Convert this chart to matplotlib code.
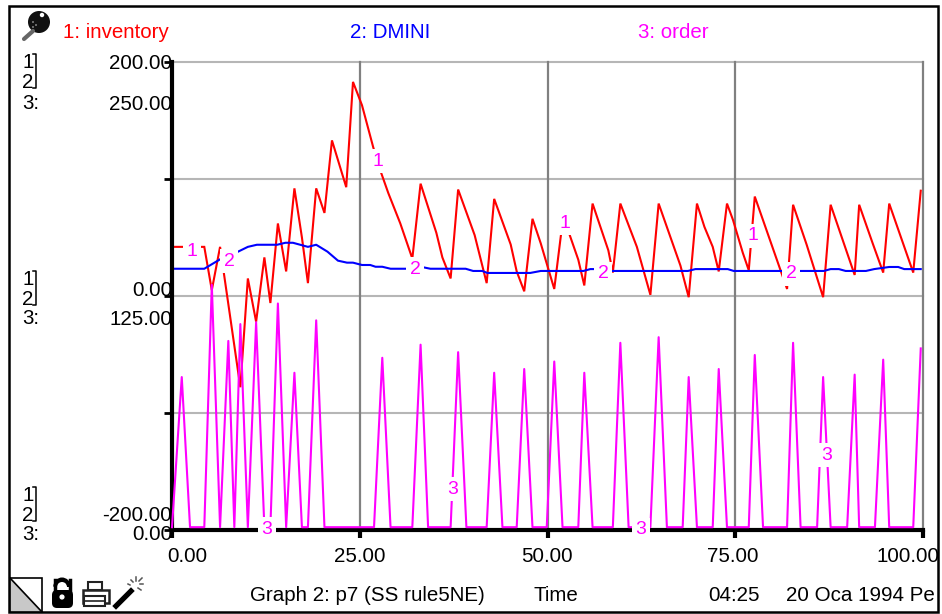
import matplotlib
matplotlib.use("Agg")
import matplotlib.pyplot as plt
from matplotlib.patches import Rectangle, Polygon, Circle, FancyBboxPatch, Wedge

plt.rcParams['font.family'] = ['Liberation Sans', 'DejaVu Sans']

# ---------- data ----------
inv_t = [0, 4.3, 5.3, 6.4, 9.1, 10.1, 11.2, 12.3, 13.1, 14.1, 15.2, 16.3, 17.3, 18.1, 19.2, 20.3, 21.3, 23.2,
         24.1, 25.3, 26.8, 27.7, 28.8, 30.4, 32, 33.1, 35.2, 36, 37.1, 38.1, 40.3, 41.9, 42.9, 45.1, 45.9, 46.9,
         48, 49.1, 50.9, 52, 52.8, 54.1, 54.9, 56, 58.1, 58.7, 59.7, 61.9, 63.7, 64.8, 67.7, 68.8, 69.9, 70.9,
         72, 72.8, 73.9, 74.7, 76, 76.8, 77.6, 81.9, 82.7, 84.5, 86.7, 87.7, 90.9, 91.5, 93.3, 94.7, 95.5, 98.7, 99.7]
inv_v = [42, 42, 5, 42, -78, 15, -22, 33, -6, 62, 21, 92, 50, 11, 92, 71, 133, 93,
         183, 163, 127, 108, 88, 62, 32, 96, 54, 33, 15, 91, 52, 11, 83, 44, 21, 4,
         66, 45, 6, 63, 55, 31, 9, 79, 39, 20, 79, 42, 1, 79, 26, -1, 79, 59,
         42, 21, 79, 65, 37, 22, 85, 6, 78, 44, -1, 78, 18, 78, 45, 20, 79, 20, 90]

dmini_t = [0, 4.3, 6.7, 8.7, 10.1, 11.3, 14, 15.1, 16.1, 18.1, 19.2, 20.7, 22.1, 23.3, 24.1, 25.3, 26.4, 27.1,
           28, 29.1, 31.3, 33.1, 34.4, 39.1, 40.1, 41.3, 42, 47.7, 49.1, 54.8, 55.7, 56.4, 58.4, 68.7, 69.7,
           74, 74.8, 86.8, 87.7, 88.8, 89.7, 92.4, 93.5, 95.5, 96.7, 97.5, 99.7]
dmini_v = [23.3, 23.3, 32.5, 37.6, 42, 43.8, 43.8, 45.5, 45.5, 42, 43.8, 37.9, 30.2, 28.5, 28.5, 26.5, 26.5, 25,
           25, 23.3, 23.3, 25, 23.3, 23.3, 21.4, 21.4, 19.7, 19.7, 21.4, 21.4, 23, 23, 21.4, 21.4, 23,
           23, 21.4, 21.4, 23, 23, 21.4, 21.4, 23, 24.8, 24.8, 23, 23]

order_t = [0, 1.3, 2.4, 4.3, 5.3, 6.4, 7.5, 8.3, 9.1, 10.1, 11.2, 12.3, 13.1, 14.1, 15.2, 16.3, 17.3, 18.1, 19.2,
           20.3, 26.9, 28, 29.1, 32, 33.1, 34.1, 37.1, 38.1, 39.2, 41.9, 42.9, 44, 45.9, 46.9, 48, 49.9, 50.9, 52,
           54.1, 54.9, 56, 58.7, 59.7, 60.8, 63.7, 64.8, 65.9, 68, 68.8, 69.9, 72, 72.8, 73.9, 76.8, 77.6, 78.7,
           81.9, 82.7, 83.7, 85.9, 86.7, 87.7, 89.9, 90.9, 91.5, 93.6, 94.7, 95.5, 98.7, 99.7]
order_v = [1.5, 81.7, 1.5, 1.5, 131, 1.5, 101, 1.5, 110, 1.5, 111, 1.5, 1.5, 121, 1.5, 84, 1.5, 1.5, 112,
           1.5, 1.5, 92, 1.5, 1.5, 99, 1.5, 1.5, 95, 1.5, 1.5, 84, 1.5, 1.5, 86, 1.5, 1.5, 90, 1.5,
           1.5, 84, 1.5, 1.5, 100, 1.5, 1.5, 103, 1.5, 1.5, 81.7, 1.5, 1.5, 86, 1.5, 1.5, 93.5, 1.5,
           1.5, 100, 1.5, 1.5, 81.7, 1.5, 1.5, 83, 1.5, 1.5, 91, 1.5, 1.5, 97]

legend_labels = ["1: inventory", "2: DMINI", "3: order"]
x_ticks = [0, 25, 50, 75, 100]
x_tick_labels = ["0.00", "25.00", "50.00", "75.00", "100.00"]
y_labels_left = ["200.00", "250.00", "0.00", "125.00", "-200.00", "0.00"]

W, H = 942, 614
RED, BLUE, MAG = "#ff0000", "#0000ff", "#ff00ff"
FS = 14.8
fig = plt.figure(figsize=(W / 100, H / 100), dpi=100, facecolor="white")

L, R, T, B = 172, 923, 62, 530
ax = fig.add_axes([L / W, 1 - B / H, (R - L) / W, (B - T) / H])
ax.set_xlim(0, 100)
ax.set_ylim(-200, 200)
ax.set_xticks(x_ticks)
ax.set_xticklabels([])
ax.set_yticks([-200, -100, 0, 100, 200])
ax.set_yticklabels([])
ax.tick_params(axis='x', length=6, width=3, color='black', bottom=True)
ax.tick_params(axis='y', length=6, width=2, color='black', left=True)
for s in ['top', 'right']:
    ax.spines[s].set_visible(False)
ax.spines['left'].set_linewidth(3)
ax.spines['bottom'].set_linewidth(3)
ax.spines['left'].set_zorder(6)
ax.spines['bottom'].set_zorder(6)
for v in [-100, 0, 100, 200]:
    ax.axhline(v, color="#b6b6b6", lw=1.5, zorder=1, clip_on=False)
for t in x_ticks[1:]:
    ax.axvline(t, color="#808080", lw=1.6, zorder=1.5, clip_on=False)

ax.plot(inv_t, inv_v, color=RED, lw=1.5, zorder=3, solid_joinstyle='miter', clip_on=False)
ax.plot(dmini_t, dmini_v, color=BLUE, lw=1.5, zorder=3.2, clip_on=False)

ax2 = ax.twinx()
ax2.set_ylim(0, 250)
ax2.set_yticks([])
for s in ax2.spines.values():
    s.set_visible(False)
ax2.plot(order_t, order_v, color=MAG, lw=1.5, zorder=3, clip_on=False)
ax.set_zorder(1)
ax2.set_zorder(2)

# overlay in pixel coordinates for the window furniture
ov = fig.add_axes([0, 0, 1, 1], zorder=5)
ov.set_xlim(0, W)
ov.set_ylim(H, 0)
ov.axis('off')
ov.patch.set_alpha(0)

border = Rectangle((9, 6), 929, 606, fill=False, ec='black', lw=1.8)
ov.add_patch(border)


def txt(x, y, s, ha='left', color='black', **kw):
    return ov.text(x, y + 1.5, s, ha=ha, va='center', color=color, fontsize=FS, **kw)


txt(63, 31, legend_labels[0], color=RED)
txt(350, 31, legend_labels[1], color=BLUE)
txt(638, 31, legend_labels[2], color=MAG)

for y0 in (61, 278, 494):
    txt(22, y0, "1")
    txt(22, y0 + 20, "2")
    txt(22, y0 + 41 if y0 == 61 else y0 + 39, "3:")
    top, bot = y0 - 7, y0 + 27
    ov.plot([33, 36, 36, 33], [top, top, bot, bot], color='black', lw=1.1)

for y, s in zip([62, 103, 289, 318, 514, 533], y_labels_left):
    txt(172, y, s, ha='right')

clip = Rectangle((9, 6), 929, 606, transform=ov.transData)
for x, s in zip([187, 360, 547, 733, 908], x_tick_labels):
    t = txt(x, 555, s, ha='center')
    t.set_clip_path(clip)
    t.set_clip_on(True)

txt(250, 594, "Graph 2: p7 (SS rule5NE)")
txt(533, 594, "Time")
txt(708, 594, "04:25")
t = txt(786, 594, "20 Oca 1994 Pe")
t.set_clip_path(clip)
t.set_clip_on(True)

labels = [(192, 251, "1"), (229, 260, "2"), (267, 528, "3"), (378, 160, "1"), (415, 268, "2"), (453, 488, "3"),
          (565, 222, "1"), (603, 273, "2"), (641, 529, "3"), (753, 235, "1"), (791, 273, "2"), (827, 454, "3")]
for x, y, s in labels:
    ov.text(x, y + 1, s, color=MAG, fontsize=14, ha='center', va='center', zorder=8,
            bbox=dict(fc='white', ec='none', pad=2.2))

# magnifier icon
ov.plot([24, 33], [39, 31], color="#666666", lw=3, solid_capstyle='round')
ov.add_patch(Circle((39, 22), 11, fc="#111111", ec='none'))
ov.add_patch(Circle((42, 15), 2.2, fc="white", ec='none'))
for (cx, cy) in [(33, 22), (36, 25), (33, 27)]:
    ov.add_patch(Circle((cx, cy), 0.9, fc="#999999", ec='none'))
# corner box
ov.add_patch(Polygon([(10, 578), (10, 612), (42, 612)], fc="#c8c8c8", ec='none'))
ov.add_patch(Rectangle((10, 578), 32, 34, fill=False, ec='black', lw=1.2))
ov.plot([10, 42], [578, 612], color='black', lw=1.2)
# lock
ov.add_patch(Wedge((62, 587), 8.5, 180, 360, width=3.5, fc='black'))
ov.plot([54.5, 54.5], [580, 591], color='black', lw=2.5)
ov.plot([69.5, 69.5], [580, 591], color='black', lw=2.5)
ov.add_patch(Wedge((62, 586), 8.5, 180, 360, width=3.5, fc='black'))
ov.add_patch(FancyBboxPatch((52, 590), 21, 18, boxstyle="round,pad=0,rounding_size=5", fc='black', ec='none'))
ov.add_patch(Circle((62, 597), 2.6, fc='white', ec='none'))
# printer
ov.add_patch(Rectangle((83, 590), 26, 13, fill=False, ec='#222222', lw=1.8))
ov.add_patch(Rectangle((88, 582), 14, 8, fill=False, ec='#222222', lw=1.5))
ov.add_patch(Rectangle((84, 596), 21, 10, fc='white', ec='#222222', lw=1.5))
ov.plot([84, 105], [601, 601], color='#222222', lw=1.2)
# wand
ov.plot([116, 131], [606, 591], color='black', lw=3.8)
for (x0, y0, x1, y1) in [(136, 577, 136, 581), (143, 584, 140, 584), (131, 580, 133, 582),
                         (142, 578, 139, 581), (141, 590, 138, 588), (128, 584, 130, 585)]:
    ov.plot([x0, x1], [y0, y1], color='#555555', lw=1.1)

fig.savefig("out.png", dpi=100, facecolor="white")
